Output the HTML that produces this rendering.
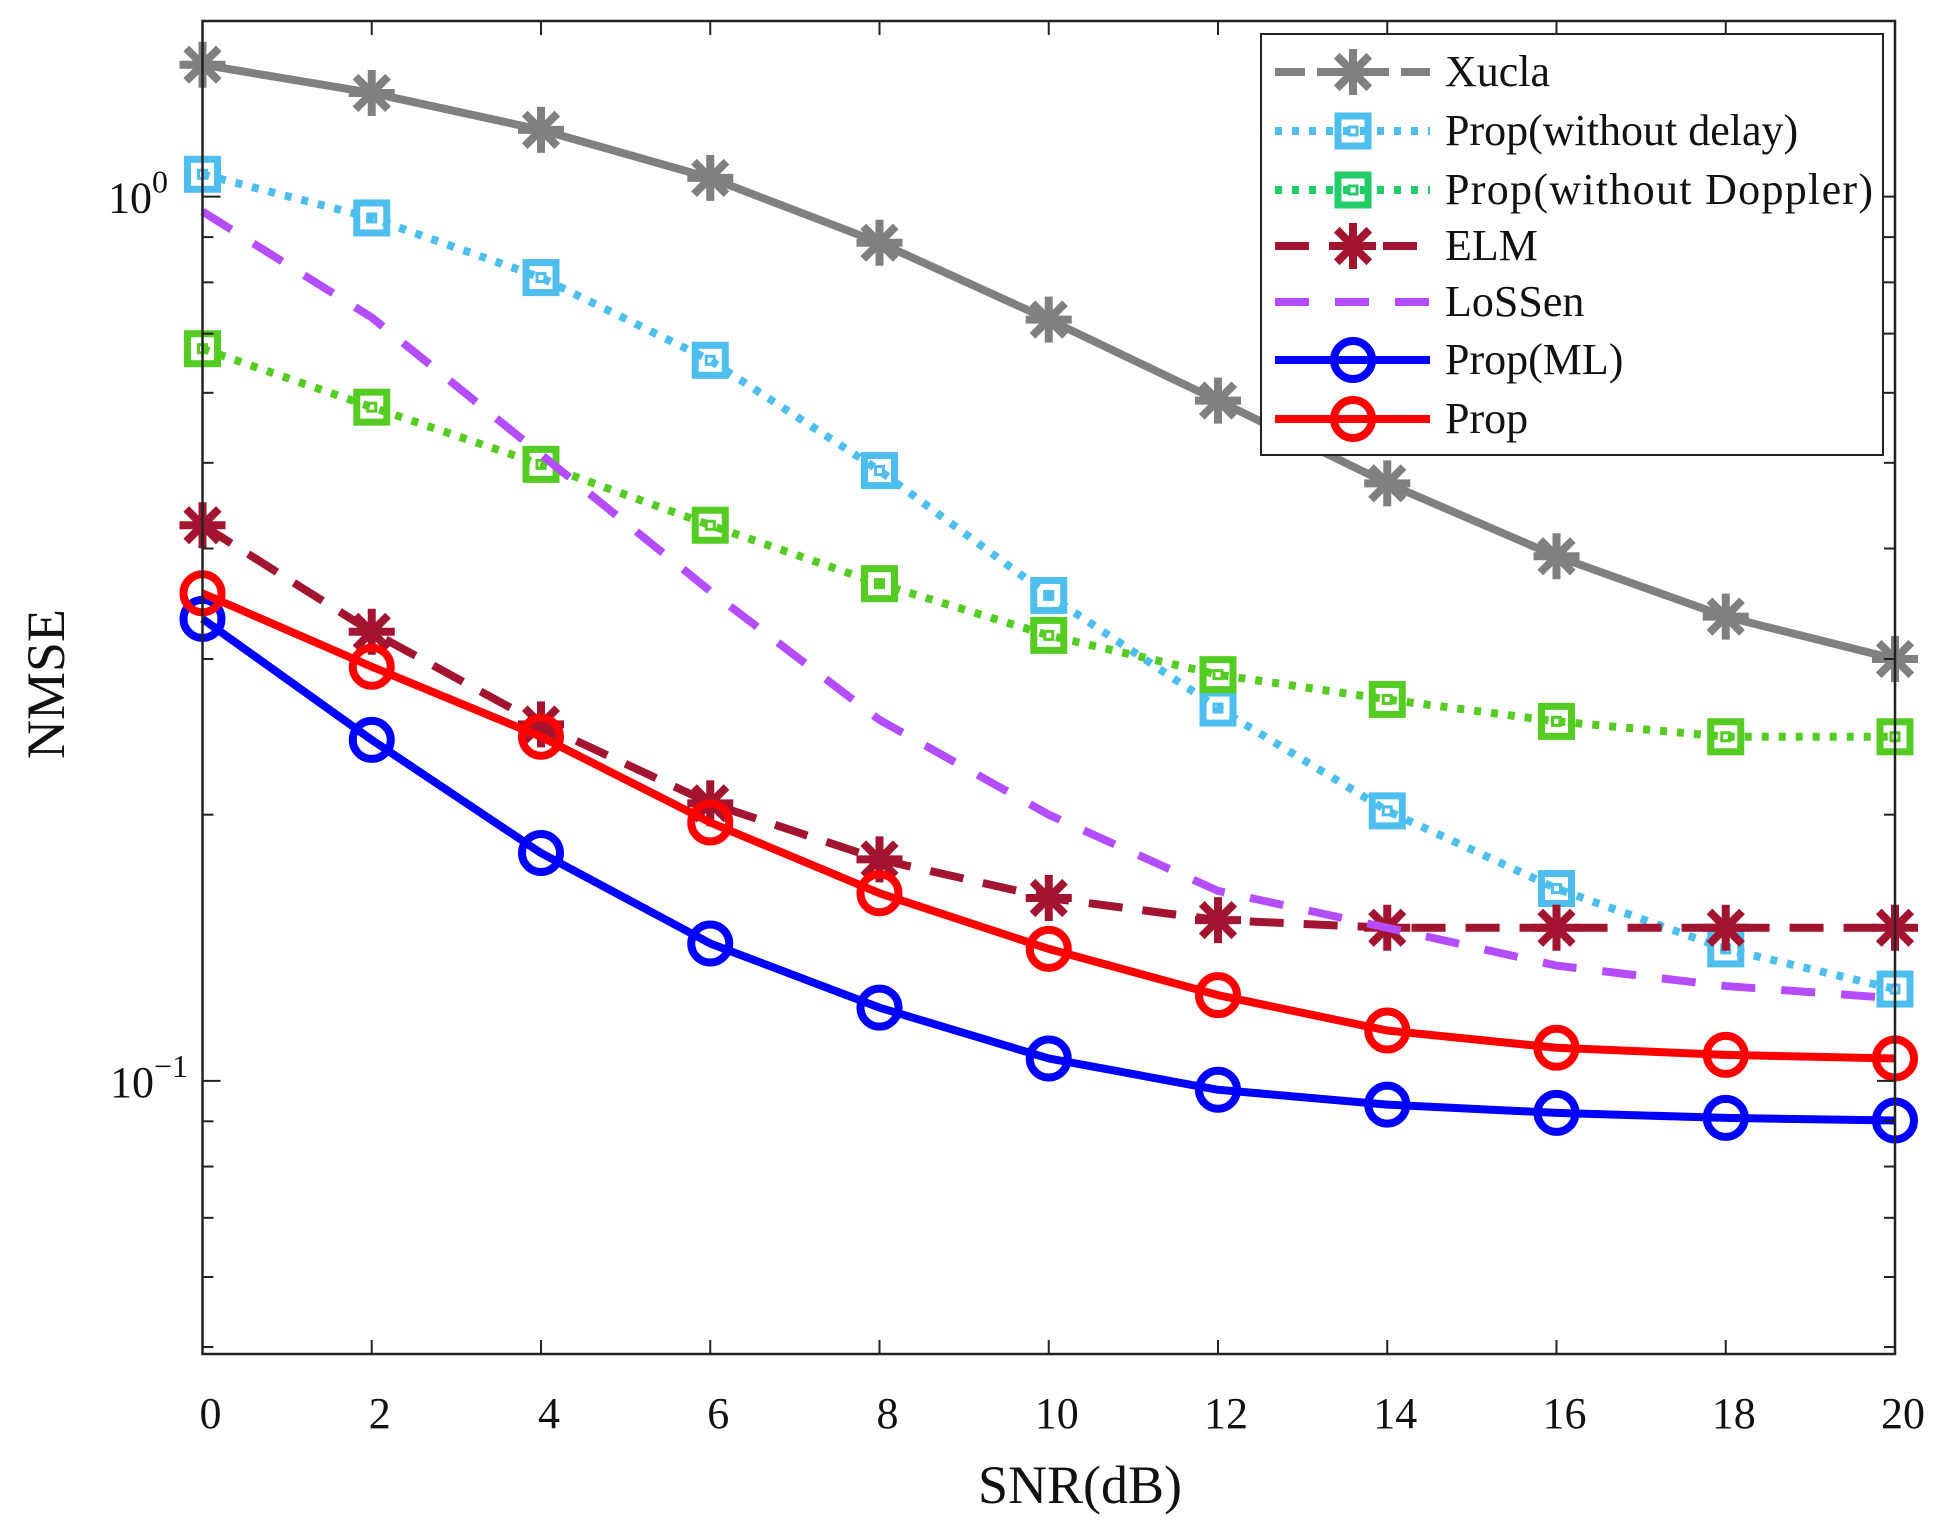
<!DOCTYPE html>
<html><head><meta charset="utf-8"><style>
html,body{margin:0;padding:0;background:#fff}
svg text{font-family:"Liberation Serif",serif;fill:#111}
</style></head><body>
<svg id="chart" width="1951" height="1521" viewBox="0 0 1951 1521" xmlns="http://www.w3.org/2000/svg">
<g id="grid"></g><g id="series"></g><g id="axes"></g><g id="legend"></g>
</svg>
<script>
const snr=[0,2,4,6,8,10,12,14,16,18,20];
const xucla=[1.41,1.31,1.19,1.05,0.887,0.726,0.588,0.474,0.392,0.335,0.300];
const propNoDelay=[1.06,0.946,0.81,0.653,0.49,0.354,0.264,0.202,0.165,0.141,0.127];
const propNoDoppler=[0.673,0.578,0.498,0.425,0.365,0.319,0.288,0.270,0.255,0.245,0.245];
const elm=[0.425,0.322,0.253,0.206,0.178,0.161,0.152,0.149,0.149,0.149,0.149];
const lossen=[0.962,0.730,0.511,0.358,0.256,0.200,0.164,0.149,0.135,0.128,0.124];
const propML=[0.333,0.243,0.181,0.143,0.121,0.106,0.0977,0.094,0.092,0.0908,0.0902];
const prop=[0.356,0.294,0.245,0.196,0.163,0.141,0.125,0.114,0.109,0.107,0.106];
const xTicks=[0,2,4,6,8,10,12,14,16,18,20];
const NS="http://www.w3.org/2000/svg";
const L=202.5,R=1895,T=21,B=1354;
const yMin=0.0491,yMax=1.58;
const sx=v=>L+(v-0)/(20-0)*(R-L);
const sy=v=>B-(Math.log10(v)-Math.log10(yMin))/(Math.log10(yMax)-Math.log10(yMin))*(B-T);
function el(tag,attrs,parent){const e=document.createElementNS(NS,tag);for(const k in attrs)e.setAttribute(k,attrs[k]);parent.appendChild(e);return e;}
const axes=document.getElementById('axes'),ser=document.getElementById('series'),leg=document.getElementById('legend');
let box=el('rect',{x:L,y:T,width:R-L,height:B-T,fill:'none',stroke:'#222','stroke-width':2.5},axes);

xTicks.forEach(t=>{const x=sx(t);
 el('line',{x1:x,y1:B,x2:x,y2:B-14,stroke:'#222','stroke-width':2},axes);
 el('line',{x1:x,y1:T,x2:x,y2:T+14,stroke:'#222','stroke-width':2},axes);
 const tx=el('text',{x:x+8,y:1428,'font-size':44,'text-anchor':'middle'},axes);tx.textContent=t;
 });
const yt=[0.05,0.06,0.07,0.08,0.09,0.1,0.2,0.3,0.4,0.5,0.6,0.7,0.8,0.9,1];
yt.forEach(v=>{const y=sy(v);const major=(v===0.1||v===1);const len=major?18:11;
 el('line',{x1:L,y1:y,x2:L+len,y2:y,stroke:'#222','stroke-width':2},axes);
 el('line',{x1:R,y1:y,x2:R-len,y2:y,stroke:'#222','stroke-width':2},axes);});
[[1,'0'],[0.1,'\u22121']].forEach(([v,e])=>{const y=sy(v);
 const t=el('text',{x:e==='0'?168:188,y:y+16,'font-size':44,'text-anchor':'end'},axes);
 
 t.appendChild(document.createTextNode('10'));
 const s=el('tspan',{dy:-20,'font-size':32},t);s.textContent=e;});
let xl=el('text',{x:1080,y:1503,'font-size':54,'text-anchor':'middle'},axes);xl.textContent='SNR(dB)';

let yl=el('text',{x:0,y:0,'font-size':54,'text-anchor':'middle',transform:'translate(64,684) rotate(-90)'},axes);yl.textContent='NMSE';

function marker(type,x,y,c,g){
 if(type==='circle'){el('circle',{cx:x,cy:y,r:19,fill:'none',stroke:c,'stroke-width':8},g);}
 else if(type==='square'){el('rect',{x:x-15,y:y-15,width:30,height:30,fill:'none',stroke:c,'stroke-width':7},g);
   el('rect',{x:x-4,y:y-4,width:8,height:8,fill:'none',stroke:c,'stroke-width':3},g);}
 else if(type==='star'){const r=23;for(let a=0;a<180;a+=45){const rd=a*Math.PI/180;
   el('line',{x1:x-r*Math.cos(rd),y1:y-r*Math.sin(rd),x2:x+r*Math.cos(rd),y2:y+r*Math.sin(rd),stroke:c,'stroke-width':8},g);}}
}
const series=[
 {name:'Xucla',data:xucla,c:'#808080',dash:'none',m:'star',legDash:'30 12'},
 {name:'Prop(without delay)',data:propNoDelay,c:'#4dbeee',dash:'7 10',m:'square'},
 {name:'Prop(without Doppler)',data:propNoDoppler,c:'#55cc22',dash:'7 10',m:'square',legC:'#22cc66'},
 {name:'ELM',data:elm,c:'#a2142f',dash:'34 20',m:'star'},
 {name:'LoSSen',data:lossen,c:'#b44cff',dash:'34 26',m:null},
 {name:'Prop(ML)',data:propML,c:'#0000ff',dash:'none',m:'circle'},
 {name:'Prop',data:prop,c:'#ff0000',dash:'none',m:'circle'}];
const lgBg=el('rect',{x:1261,y:34,width:622,height:421,fill:'#fff'},leg);

series.forEach((s,i)=>{
 const g=el('g',{},ser);
 
 
 const pts=snr.map((x,j)=>sx(x)+','+sy(s.data[j])).join(' ');
 const pl={points:pts,fill:'none',stroke:s.c,'stroke-width':8,'stroke-linejoin':'round'};
 if(s.dash!=='none')pl['stroke-dasharray']=s.dash;
 el('polyline',pl,g);
 if(s.m)snr.forEach((x,j)=>marker(s.m,sx(x),sy(s.data[j]),s.c,g));
 const ly=[72,131,190,246,302,360,419][i];
 const lg=el('g',{},leg);
 
 const ld={x1:1275,y1:ly,x2:1430,y2:ly,stroke:s.legC||s.c,'stroke-width':8};
 const d=s.legDash||(s.dash!=='none'?s.dash:null);if(d)ld['stroke-dasharray']=d;
 el('line',ld,lg);
 if(s.m)marker(s.m,1353,ly,s.legC||s.c,lg);
 const t=el('text',{x:1445,y:ly+14,'font-size':44},lg);
 if(s.name==='Prop(without Doppler)')t.setAttribute('textLength',428);
 t.textContent=s.name;
});
const lb=el('rect',{x:1261,y:34,width:622,height:421,fill:'none',stroke:'#222','stroke-width':2},leg);

</script>
</body></html>
